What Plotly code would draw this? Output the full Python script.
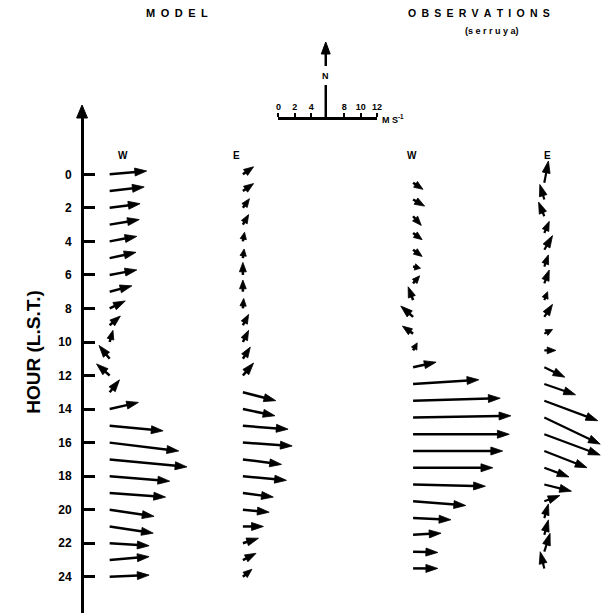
import math
import plotly.graph_objects as go

# ---------------- data (m/s, u = eastward, v = northward) ----------------
HOUR_TICKS = [0, 2, 4, 6, 8, 10, 12, 14, 16, 18, 20, 22, 24]
HOUR_TICK_TEXT = ["0", "2", "4", "6", "8", "10", "12", "14", "16", "18", "20", "22", "24"]

MODEL_HOURS = [0, 1, 2, 3, 4, 5, 6, 7, 8, 9, 10, 11, 12, 13, 14, 15, 16, 17, 18, 19, 20, 21, 22, 23, 24]
MODEL_W_U = [4.5, 4.2, 3.7, 3.6, 3.3, 3.2, 3.3, 2.7, 1.9, 1.3, 0.4, -1.3, -1.6, 1.2, 3.5,
             6.5, 8.4, 9.4, 7.3, 6.8, 5.4, 5.3, 4.8, 4.8, 4.8]
MODEL_W_V = [0.4, 0.5, 0.5, 0.6, 0.6, 0.7, 0.6, 0.7, 0.9, 1.1, 1.4, 1.6, 1.4, 1.5, 0.8,
             -0.6, -1.0, -0.9, -0.6, -0.5, -0.8, -0.8, -0.3, 0.4, 0.2]
MODEL_E_U = [1.3, 1.3, 0.8, 0.7, 0.2, 0.15, 0.0, 0.0, 0.1, 0.7, 0.7, 0.9, 1.3, 4.0, 3.9,
             5.5, 6.0, 4.7, 5.3, 3.7, 3.2, 2.5, 1.9, 1.6, 1.1]
MODEL_E_V = [0.9, 0.9, 1.1, 1.2, 1.1, 1.1, 1.5, 1.4, 1.2, 1.3, 1.4, 1.4, 1.5, -1.0, -0.8,
             -0.4, -0.4, -0.6, -0.5, -0.5, -0.3, 0.0, 0.6, 0.8, 0.9]

OBS_HOURS = [0.5, 1.5, 2.5, 3.5, 4.5, 5.5, 6.5, 7.5, 8.5, 9.5, 10.5, 11.5, 12.5, 13.5,
             14.5, 15.5, 16.5, 17.5, 18.5, 19.5, 20.5, 21.5, 22.5, 23.5]
OBS_W_U = [1.2, 1.4, 1.0, 1.1, 1.1, 0.9, 0.8, -0.6, -1.5, -1.3, 0.5, 2.8, 8.0, 10.6,
           11.9, 11.7, 10.9, 9.7, 8.8, 6.4, 4.6, 3.4, 3.0, 3.0]
OBS_W_V = [-0.8, -0.8, -1.1, -0.8, -0.8, -0.2, 0.9, 1.6, 1.3, 0.9, 0.9, 0.6, 0.5, 0.3,
           0.2, 0.0, 0.0, 0.0, -0.2, -0.5, -0.2, 0.2, -0.1, 0.0]
OBS_E_U = [0.5, -0.55, -0.7, 0.6, 1.0, 0.5, 0.6, 0.4, 1.0, 1.0, 1.4, 2.5, 3.8, 6.5,
           6.8, 6.8, 5.2, 3.0, 3.3, 1.9, 0.5, 0.5, 0.7, -0.5]
OBS_E_V = [2.6, 1.8, 1.7, 1.4, 1.7, 1.4, 1.6, 1.0, 1.5, 0.5, 0.0, -1.2, -1.3, -2.4,
           -3.2, -2.5, -2.0, -1.1, -0.8, 0.7, 1.7, 1.8, 2.2, 2.0]

SCALE_TICKS = [0, 2, 4, 8, 10, 12]
SCALE_TICK_TEXT = ["0", "2", "4", "8", "10", "12"]

# ---------------- layout constants (window pixels) ----------------
WIN_W, WIN_H = 610, 613
OFF = 8                       # page body margin
W, H = WIN_W - OFF, WIN_H - OFF
PX_PER_HR = 16.77
HOUR0_PX = 174.3 - OFF
PX_PER_MS = 8.33
AX_TOP_PX = 112 - OFF
AXIS_X_PX = 80 - OFF
HEAD_LEN = 12.0    # px
HEAD_HALF = 4.0    # px

FONT = "Liberation Sans"

columns = [
    ("x", 108, MODEL_HOURS, MODEL_W_U, MODEL_W_V, 2.5),
    ("x2", 243, MODEL_HOURS, MODEL_E_U, MODEL_E_V, 2.5),
    ("x3", 415.5, OBS_HOURS, OBS_W_U, OBS_W_V, 2.5),
    ("x4", 548.5, OBS_HOURS, OBS_E_U, OBS_E_V, 2.2),
]

fig = go.Figure()
annotations = []
layout_axes = {}


def to_data(t, px_right, px_up):
    """pixel offset from an arrow's tail -> (x in m/s, y in hours)."""
    return px_right / PX_PER_MS, t - px_up / PX_PER_HR


for xname, tail_win, hours, us, vs, lw in columns:
    tail_px = tail_win - OFF
    key = "xaxis" if xname == "x" else "xaxis" + xname[1:]
    ax_cfg = dict(domain=[0, 1], range=[-tail_px / PX_PER_MS, (W - tail_px) / PX_PER_MS],
                  visible=False, anchor="y")
    if xname != "x":
        ax_cfg["overlaying"] = "x"
    layout_axes[key] = ax_cfg

    sx, sy, hx, hy = [], [], [], []
    for t, u, v in zip(hours, us, vs):
        dxp, dyp = u * PX_PER_MS, v * PX_PER_MS
        L = math.hypot(dxp, dyp)
        if L == 0:
            continue
        ex, ey = dxp / L, dyp / L
        hl = min(HEAD_LEN, 0.75 * L)
        hw = HEAD_HALF * max(0.8, math.sqrt(hl / HEAD_LEN))
        bx, by = dxp - ex * hl, dyp - ey * hl
        # shaft
        for (a, b) in [(0, 0), (bx + ex * 1.0, by + ey * 1.0)]:
            X, Y = to_data(t, a, b)
            sx.append(X); sy.append(Y)
        sx.append(None); sy.append(None)
        # head
        for (a, b) in [(dxp, dyp), (bx - ey * hw, by + ex * hw), (bx + ey * hw, by - ex * hw), (dxp, dyp)]:
            X, Y = to_data(t, a, b)
            hx.append(X); hy.append(Y)
        hx.append(None); hy.append(None)

    fig.add_trace(go.Scatter(x=sx, y=sy, mode="lines", xaxis=xname, yaxis="y",
                             line=dict(color="black", width=lw),
                             showlegend=False, hoverinfo="skip", cliponaxis=False))
    fig.add_trace(go.Scatter(x=hx, y=hy, mode="lines", xaxis=xname, yaxis="y",
                             fill="toself", fillcolor="black",
                             line=dict(color="black", width=0.8),
                             showlegend=False, hoverinfo="skip", cliponaxis=False))

# scale-bar axis
fig.add_trace(go.Scatter(x=[0, 12], y=[None, None], xaxis="x5", yaxis="y",
                         showlegend=False, hoverinfo="skip"))
layout_axes["xaxis5"] = dict(
    domain=[(279 - OFF) / W, (379 - OFF) / W], range=[0, 12], anchor="free",
    position=1 - (118 - OFF) / H,
    side="top", showline=True, linewidth=2.5, linecolor="black",
    ticks="outside", ticklen=4, tickwidth=2, tickcolor="black",
    tickvals=SCALE_TICKS, ticktext=SCALE_TICK_TEXT, ticklabelstandoff=0,
    tickfont=dict(family=FONT, size=9, color="black", weight="bold"),
    showgrid=False, zeroline=False)


def px(xw, yw):
    return (xw - OFF) / W, 1 - (yw - OFF) / H


def text(xw, yw, s, size, **kw):
    x, y = px(xw, yw)
    d = dict(x=x, y=y, xref="paper", yref="paper", text=s, showarrow=False,
             xanchor="center", yanchor="middle",
             font=dict(family=FONT, size=size, color="black", weight="bold"))
    d.update(kw)
    annotations.append(d)


SP = "\u2002"
text(176, 13, SP.join("MODEL"), 11)
text(482, 13, SP.join("OBSERVATIONS"), 10.5)
text(495, 31, "(s e r r u y a)", 9)
for xw, s in [(122, "W"), (237, "E"), (414, "W"), (552, "E")]:
    text(xw, 156, s, 10)
text(30, 352, "HOUR (L.S.T.)", 19, textangle=-90)
text(382, 119, "M S<sup>-1</sup>", 9, xanchor="left")
text(327, 76, "N", 9)


def tri(xc, y_tip, y_base, half):
    (a, b), (c, d), (e, f) = px(xc, y_tip), px(xc - half, y_base), px(xc + half, y_base)
    return dict(type="path", xref="paper", yref="paper",
                path=f"M{a},{b} L{c},{d} L{e},{f} Z",
                fillcolor="black", line=dict(color="black", width=1))


def vline(xc, y0, y1, w):
    (a, b), (_, d) = px(xc, y0), px(xc, y1)
    return dict(type="line", xref="paper", yref="paper", x0=a, x1=a, y0=b, y1=d,
                line=dict(color="black", width=w))


shapes = [
    tri(80, 105, 118, 5.5),           # hour axis arrowhead
    tri(327, 42, 54, 4.5),            # north arrow head
    vline(327, 53, 66, 2.5),
    vline(327, 85, 118, 2.5),
]

fig.update_layout(
    width=W, height=H, margin=dict(l=0, r=0, t=0, b=0),
    paper_bgcolor="white", plot_bgcolor="rgba(0,0,0,0)",
    showlegend=False,
    yaxis=dict(domain=[0, 1 - AX_TOP_PX / H],
               range=[(H - HOUR0_PX) / PX_PER_HR, (AX_TOP_PX - HOUR0_PX) / PX_PER_HR],
               anchor="free", position=AXIS_X_PX / W, side="left",
               showline=True, linewidth=3, linecolor="black",
               ticks="inside", ticklen=11, tickwidth=2.5, tickcolor="black",
               tickvals=HOUR_TICKS, ticktext=HOUR_TICK_TEXT, ticklabelstandoff=7,
               tickfont=dict(family=FONT, size=12, color="black", weight="bold"),
               showgrid=False, zeroline=False),
    annotations=annotations, shapes=shapes,
    **layout_axes,
)

fig.write_html("out.html")
